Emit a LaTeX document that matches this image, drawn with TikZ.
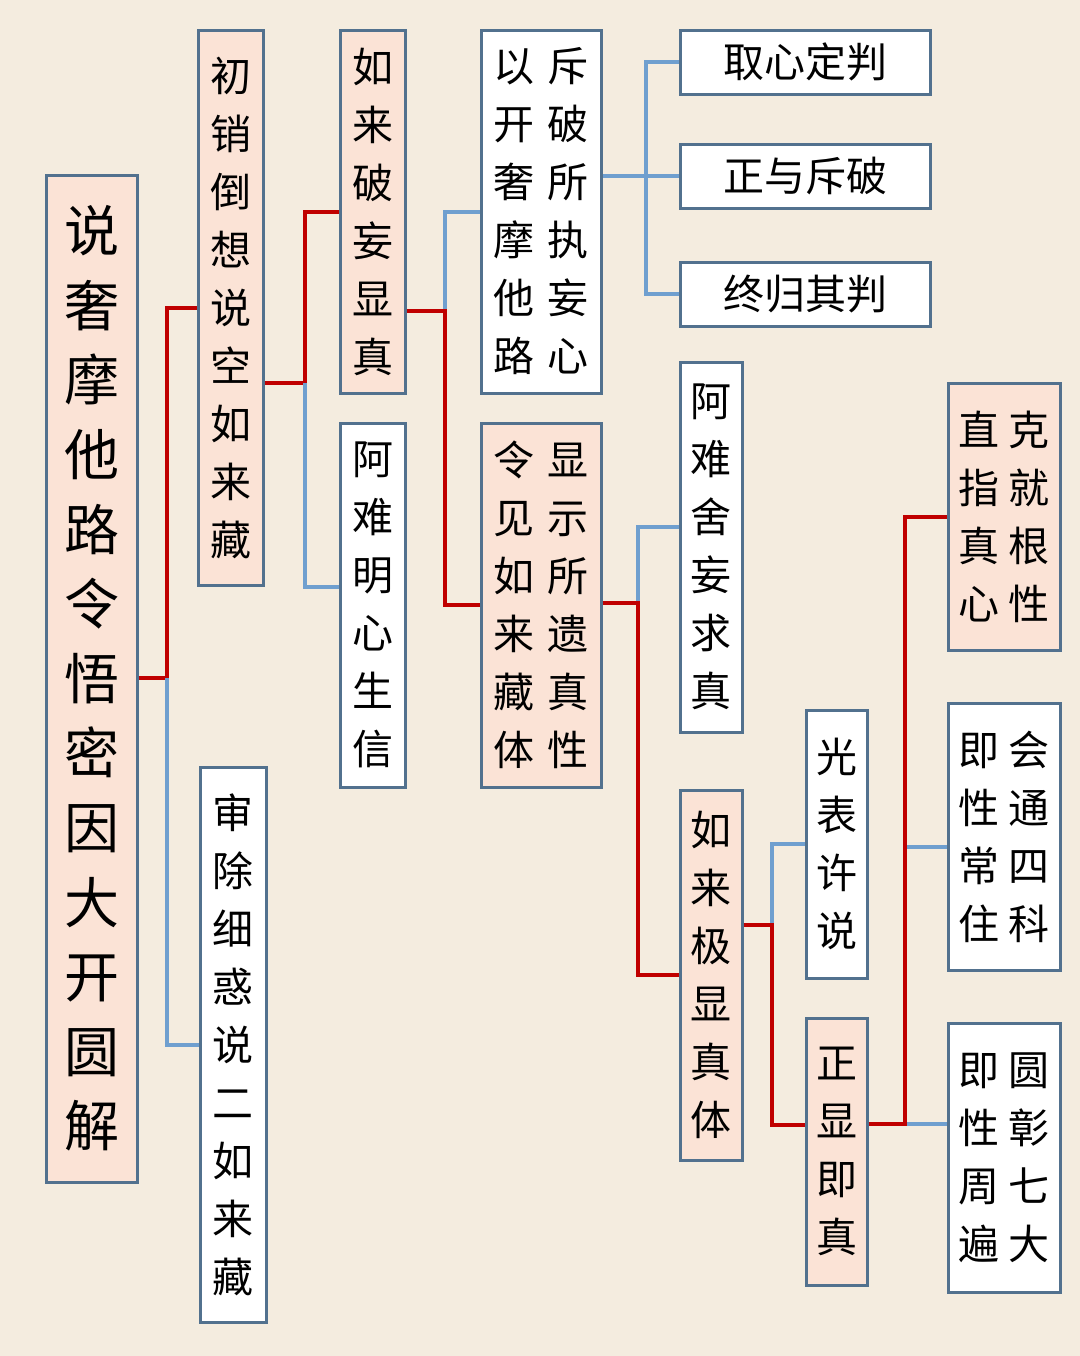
\documentclass[tikz,border=0pt]{standalone}
\usepackage{fontspec}
\newfontfamily\cjk{Noto Sans CJK SC}
\definecolor{bgcol}{HTML}{F4ECDF}
\definecolor{pinkfill}{HTML}{FBE3D6}
\definecolor{boxline}{HTML}{52718E}
\definecolor{redcol}{HTML}{C00000}
\definecolor{bluecol}{HTML}{6F9FCF}
\tikzset{
  box/.style={draw=boxline, line width=1.5pt, inner sep=0pt, align=center,
    font=\cjk\fontsize{20.5}{29}\selectfont},
  pinkbox/.style={box, fill=pinkfill},
  whitebox/.style={box, fill=white},
  redline/.style={draw=redcol, line width=2pt},
  blueline/.style={draw=bluecol, line width=2pt}
}
\begin{document}
\begin{tikzpicture}[x=0.5pt,y=-0.5pt]
\fill[bgcol] (0,0) rectangle (1080,1356);
\node[pinkbox, minimum width=45.5pt, minimum height=503.5pt, font=\cjk\fontsize{27.5}{37.3}\selectfont] (main) at (91.5,678.5)
  {说\\奢\\摩\\他\\路\\令\\悟\\密\\因\\大\\开\\圆\\解};
\node[pinkbox, minimum width=32.5pt, minimum height=277.5pt] (chuxiao) at (230.5,307.5) {初\\销\\倒\\想\\说\\空\\如\\来\\藏};
\node[whitebox, minimum width=33pt, minimum height=277.5pt] (shenchu) at (233,1044.5) {审\\除\\细\\惑\\说\\二\\如\\来\\藏};
\node[pinkbox, minimum width=32.5pt, minimum height=181.5pt] (rulaipo) at (372.5,211.5) {如\\来\\破\\妄\\显\\真};
\node[whitebox, minimum width=32.5pt, minimum height=182pt] (ananming) at (372.5,605) {阿\\难\\明\\心\\生\\信};
\node[whitebox, minimum width=60pt, minimum height=181.5pt] (yikai) at (541,211.5)
  {以\hspace{6.5pt}斥\\开\hspace{6.5pt}破\\奢\hspace{6.5pt}所\\摩\hspace{6.5pt}执\\他\hspace{6.5pt}妄\\路\hspace{6.5pt}心};
\node[whitebox, minimum width=125pt, minimum height=32pt] (quxin) at (805,62) {取心定判};
\node[whitebox, minimum width=125pt, minimum height=32pt] (zhengyu) at (805,176) {正与斥破};
\node[whitebox, minimum width=125pt, minimum height=32pt] (zhonggui) at (805,294) {终归其判};
\node[pinkbox, minimum width=60pt, minimum height=182pt] (lingjian) at (541,605)
  {令\hspace{6.5pt}显\\见\hspace{6.5pt}示\\如\hspace{6.5pt}所\\来\hspace{6.5pt}遗\\藏\hspace{6.5pt}真\\体\hspace{6.5pt}性};
\node[whitebox, minimum width=31pt, minimum height=185pt] (ananshe) at (711,547) {阿\\难\\舍\\妄\\求\\真};
\node[pinkbox, minimum width=31pt, minimum height=185pt] (rulaiji) at (711,975) {如\\来\\极\\显\\真\\体};
\node[whitebox, minimum width=30.5pt, minimum height=134pt] (guangbiao) at (836.5,844) {光\\表\\许\\说};
\node[pinkbox, minimum width=30.5pt, minimum height=133.5pt] (zhengxian) at (836.5,1151.5) {正\\显\\即\\真};
\node[pinkbox, minimum width=56pt, minimum height=133.5pt] (zhizhi) at (1004,516.5)
  {直\hspace{5pt}克\\指\hspace{5pt}就\\真\hspace{5pt}根\\心\hspace{5pt}性};
\node[whitebox, minimum width=56pt, minimum height=133.5pt] (jixingchang) at (1004,836.5)
  {即\hspace{5pt}会\\性\hspace{5pt}通\\常\hspace{5pt}四\\住\hspace{5pt}科};
\node[whitebox, minimum width=56pt, minimum height=134.5pt] (jixingzhou) at (1004,1157.5)
  {即\hspace{5pt}圆\\性\hspace{5pt}彰\\周\hspace{5pt}七\\遍\hspace{5pt}大};
\coordinate (j1) at (167,678);
\coordinate (j2) at (305,383);
\coordinate (j3) at (445,311);
\coordinate (j4) at (646,176);
\coordinate (j5) at (638,603);
\coordinate (j6) at (772,925);
\coordinate (j7) at (905,1124);
\draw[redline] (main.east |- j1) -- (j1) |- (chuxiao.west);
\draw[blueline] (j1) |- (shenchu.west);
\draw[redline] (chuxiao.east |- j2) -- (j2) |- (rulaipo.west);
\draw[blueline] (j2) |- (ananming.west |- 0,587);
\draw[blueline] (j3) |- (yikai.west);
\draw[redline] (rulaipo.east |- j3) -- (j3) |- (lingjian.west);
\draw[blueline] (yikai.east |- j4) -- (j4);
\foreach \n in {quxin,zhengyu,zhonggui}
    \draw[blueline] (j4) |- (\n.west);
\draw[blueline] (j5) |- (ananshe.west |- 0,527);
\draw[redline] (lingjian.east |- j5) -- (j5) |- (rulaiji.west);
\draw[blueline] (j6) |- (guangbiao.west);
\draw[redline] (rulaiji.east |- j6) -- (j6) |- (zhengxian.west |- 0,1125);
\draw[blueline] (j7) -- (jixingzhou.west |- j7);
\draw[blueline] (j7 |- 0,847) -- (jixingchang.west |- 0,847);
\draw[redline] (zhengxian.east |- j7) -- (j7) |- (zhizhi.west);
\end{tikzpicture}
\end{document}
